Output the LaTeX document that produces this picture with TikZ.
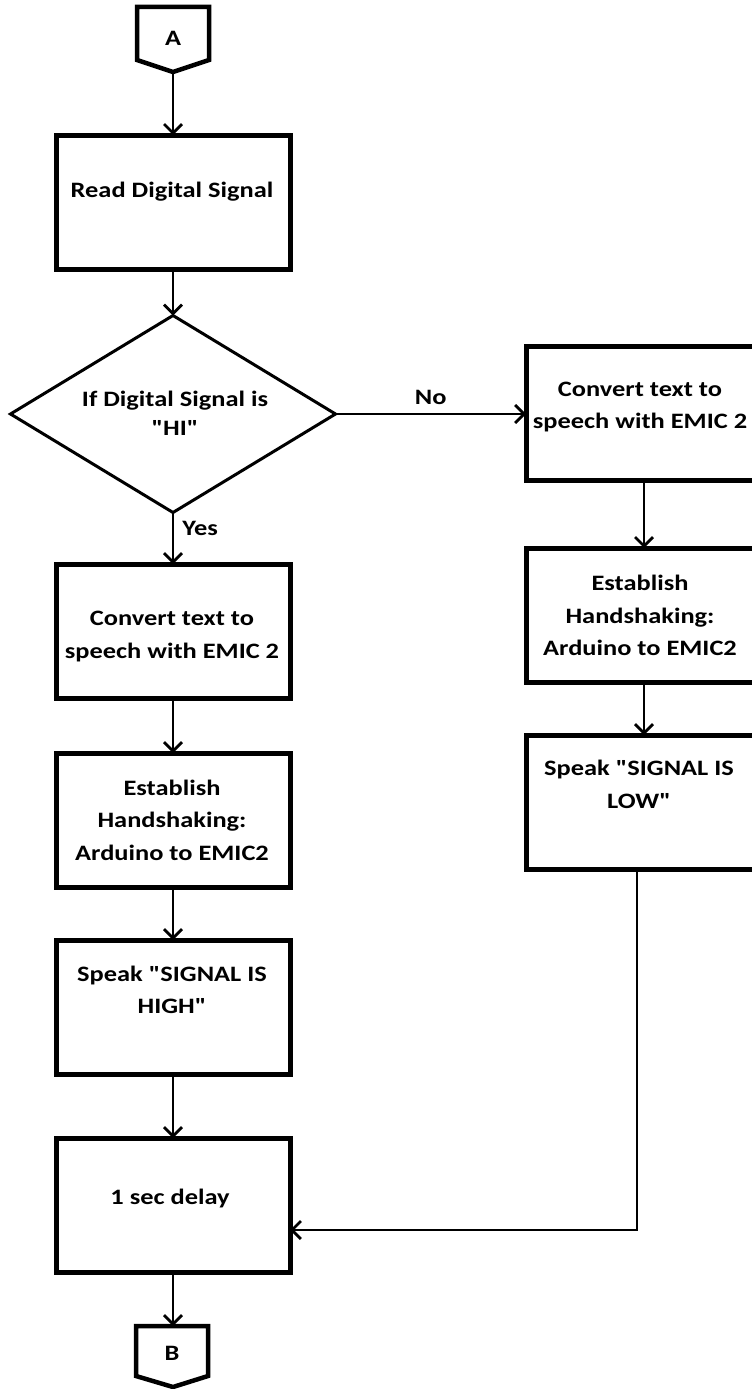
\documentclass[tikz,border=0pt]{standalone}
\usepackage{fontspec}
\setmainfont{Carlito}[FakeStretch=1.2, Ligatures=TeXOff]
\usetikzlibrary{arrows.meta,shapes.geometric}
\begin{document}
\begin{tikzpicture}[x=1pt,y=-1pt,
  box/.style={draw, line width=5pt, minimum width=234pt, minimum height=134pt, anchor=north west, inner sep=0pt, outer sep=0pt},
  rbox/.style={box, minimum width=240pt},
  lbl/.style={font=\bfseries\fontsize{22}{32.5}\selectfont, align=center, text=black, inner sep=0pt},
  conn/.style={line width=2.8pt, -{Straight Barb[length=9pt,width=18pt,line width=2.8pt]}},
  offpage/.style={draw, line width=4.5pt, line join=miter}]
\useasboundingbox (0,0) rectangle (752,1389);
% off-page connector A
\draw[offpage] (137,7) -- (209,7) -- (209,60) -- (173,72) -- (137,60) -- cycle;
\node[lbl] (Atxt) at (173,38) {A};
\coordinate (Atip) at (173,72);
% left column
\node[box] (read) at (56,135) {};
\node[lbl] (readtxt) at (172,192) {Read Digital Signal};
\node[draw, line width=3pt, diamond, minimum width=325pt, minimum height=197pt, inner sep=0pt, outer sep=0pt] (dia) at (173,414) {};
\node[lbl, font=\bfseries\fontsize{22}{29}\selectfont] (diatxt) at (175,413) {If Digital Signal is\\"HI"};
\node[box] (conv1) at (56,564) {};
\node[lbl] (conv1txt) at (172,636.5) {Convert text to\\speech with EMIC 2};
\node[box] (est1) at (56,753) {};
\node[lbl] (est1txt) at (172,820) {Establish\\Handshaking:\\Arduino to EMIC2};
\node[box] (spk1) at (56,940) {};
\node[lbl] (spk1txt) at (172,990) {Speak "SIGNAL IS\\HIGH"};
\node[box] (delay) at (56,1138) {};
\node[lbl] (delaytxt) at (170,1198) {1 sec delay};
% right column
\node[rbox] (conv2) at (526,346) {};
\node[lbl] (conv2txt) at (640,407) {Convert text to\\speech with EMIC 2};
\node[rbox] (est2) at (526,548) {};
\node[lbl] (est2txt) at (640,615.5) {Establish\\Handshaking:\\Arduino to EMIC2};
\node[rbox] (spk2) at (526,735) {};
\node[lbl] (spk2txt) at (639,784.5) {Speak "SIGNAL IS\\LOW"};
% off-page connector B
\draw[offpage] (136,1326) -- (208,1326) -- (208,1376) -- (173,1387) -- (136,1376) -- cycle;
\node[lbl] (Btxt) at (172,1353) {B};
\coordinate (Btop) at (173,1326);
% connectors
\draw[conn] (Atip) -- (read.north);
\draw[conn] (read.south) -- (dia.north);
\draw[conn] (dia.east) -- (dia.east -| conv2.west) node[lbl, midway, above=8pt] (no) {No};
\draw[conn] (dia.south) -- (conv1.north) node[lbl, pos=0.3, right=8pt] (yes) {Yes};
\draw[conn] (conv1.south) -- (est1.north);
\draw[conn] (est1.south) -- (spk1.north);
\draw[conn] (spk1.south) -- (delay.north);
\draw[conn] (delay.south) -- (Btop);
\draw[conn] ([xshift=-2pt]conv2.south) -- ([xshift=-2pt]est2.north);
\draw[conn] ([xshift=-2pt]est2.south) -- ([xshift=-2pt]spk2.north);
\draw[conn] ([xshift=-9pt]spk2.south) |- ([yshift=-25pt]delay.east);
\end{tikzpicture}
\end{document}
